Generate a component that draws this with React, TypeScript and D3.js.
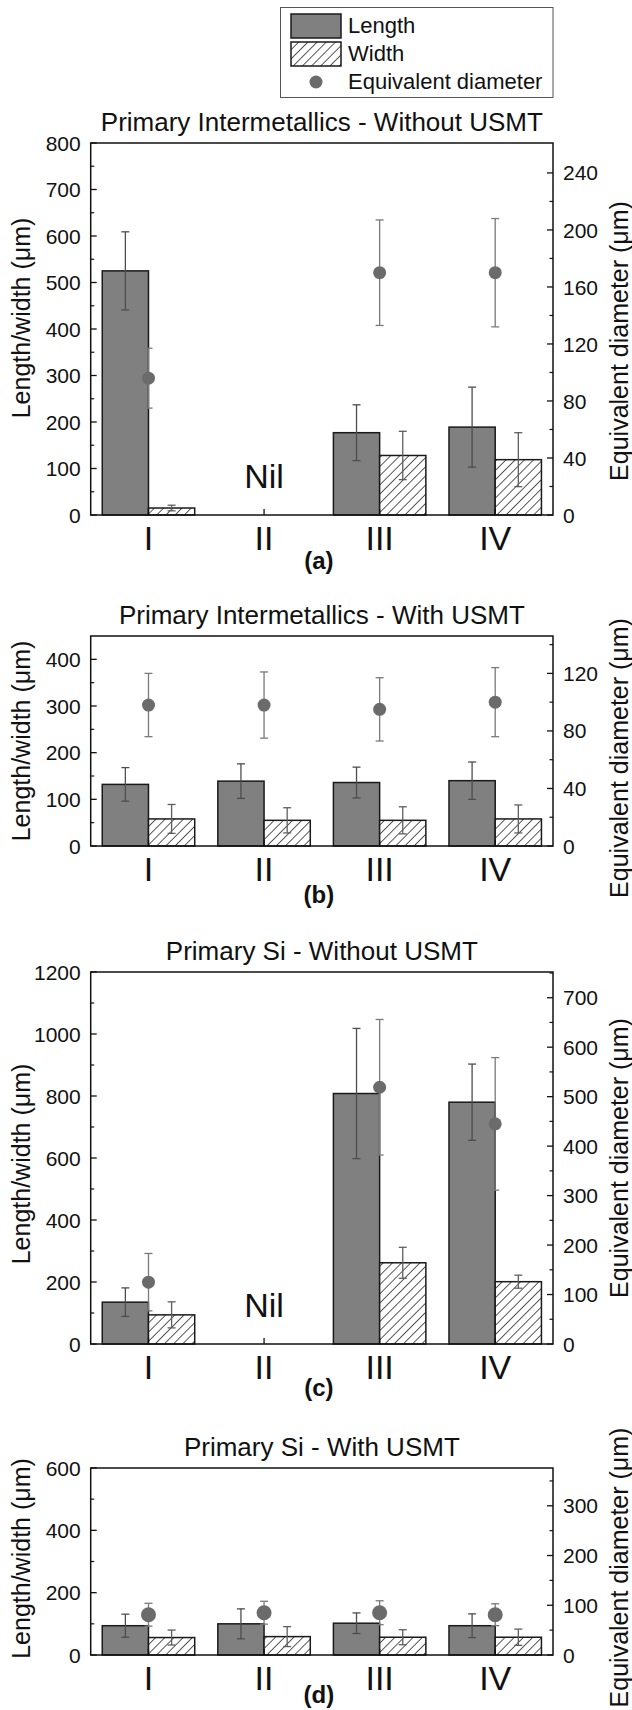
import React from "react";
import * as d3 from "d3";

const categories = ["I", "II", "III", "IV"];
const seriesNames = ["Length", "Width"];

// (a) Primary Intermetallics - Without USMT
const lengthA = [525, null, 177, 189];
const lengthErrA = [84, null, 60, 86];
const widthA = [15, null, 128, 119];
const widthErrA = [6, null, 52, 58];
const diamA = [96, null, 170, 170];
const diamErrA = [21, null, 37, 38];

// (b) Primary Intermetallics - With USMT
const lengthB = [132, 139, 136, 140];
const lengthErrB = [36, 37, 33, 40];
const widthB = [58, 55, 55, 58];
const widthErrB = [31, 27, 29, 30];
const diamB = [98, 98, 95, 100];
const diamErrB = [22, 23, 22, 24];

// (c) Primary Si - Without USMT
const lengthC = [135, null, 808, 780];
const lengthErrC = [46, null, 210, 123];
const widthC = [94, null, 262, 201];
const widthErrC = [42, null, 50, 21];
const diamC = [125, null, 519, 445];
const diamErrC = [58, null, 137, 134];

// (d) Primary Si - With USMT
const lengthD = [94, 100, 102, 94];
const lengthErrD = [37, 48, 33, 38];
const widthD = [56, 59, 57, 57];
const widthErrD = [24, 32, 24, 26];
const diamD = [81, 85, 85, 81];
const diamErrD = [23, 23, 24, 22];

const titles = [
  "Primary Intermetallics - Without USMT",
  "Primary Intermetallics - With USMT",
  "Primary Si - Without USMT",
  "Primary Si - With USMT",
];
const letters = ["(a)", "(b)", "(c)", "(d)"];
const leftMax = [800, 450, 1200, 600];
const rightMax = [261, 146, 752, 376];
const leftStep = [100, 100, 200, 200];
const rightStep = [40, 40, 100, 100];

const FONT = "'Liberation Sans', Arial, Helvetica, sans-serif";
const X0 = 90.7;
const X1 = 553;

const layout = [
  { top: 143, bottom: 515, lShift: -11, rShift: 12, letterY: 54, radius: 6.5 },
  { top: 636, bottom: 846, lShift: 0, rShift: 17, letterY: 57, radius: 6.5 },
  { top: 972, bottom: 1344, lShift: 6, rShift: 0, letterY: 52, radius: 6.5 },
  { top: 1468, bottom: 1655, lShift: -3, rShift: 6, letterY: 48, radius: 7.5 },
];

const panels = [
  { length: lengthA, lengthErr: lengthErrA, width: widthA, widthErr: widthErrA, diam: diamA, diamErr: diamErrA },
  { length: lengthB, lengthErr: lengthErrB, width: widthB, widthErr: widthErrB, diam: diamB, diamErr: diamErrB },
  { length: lengthC, lengthErr: lengthErrC, width: widthC, widthErr: widthErrC, diam: diamC, diamErr: diamErrC },
  { length: lengthD, lengthErr: lengthErrD, width: widthD, widthErr: widthErrD, diam: diamD, diamErr: diamErrD },
];

const ErrBar = ({ x, y0, y1, color }) => (
  <g stroke={color} strokeWidth={1.3}>
    <line x1={x} x2={x} y1={y0} y2={y1} />
    <line x1={x - 4} x2={x + 4} y1={y0} y2={y0} />
    <line x1={x - 4} x2={x + 4} y1={y1} y2={y1} />
  </g>
);

const Panel = ({ i }) => {
  const { top, bottom, lShift, rShift, letterY, radius } = layout[i];
  const d = panels[i];
  const x = d3.scaleBand().domain(categories).range([X0, X1]).paddingInner(0.2).paddingOuter(0.1);
  const sub = d3.scaleBand().domain(seriesNames).range([0, x.bandwidth()]);
  const yL = d3.scaleLinear().domain([0, leftMax[i]]).range([bottom, top]);
  const yR = d3.scaleLinear().domain([0, rightMax[i]]).range([bottom, top]);
  const lMajor = d3.range(0, leftMax[i] + 1, leftStep[i]);
  const lMinor = d3.range(leftStep[i] / 2, leftMax[i], leftStep[i]);
  const rMajor = d3.range(0, rightMax[i] + 0.01, rightStep[i]);
  const rMinor = d3.range(rightStep[i] / 2, rightMax[i] - 1, rightStep[i]);
  const center = (c) => x(c) + x.bandwidth() / 2;
  const midY = (top + bottom) / 2;

  return (
    <g>
      <text x={(X0 + X1) / 2} y={top - 12} textAnchor="middle" fontSize={26}>
        {titles[i]}
      </text>

      {categories.map((c, k) => (
        <g key={c}>
          {d.length[k] != null && (
            <rect x={x(c) + sub("Length")} y={yL(d.length[k])} width={sub.bandwidth()}
              height={bottom - yL(d.length[k])} fill="#808080" stroke="#1a1a1a" strokeWidth={1.5} />
          )}
          {d.width[k] != null && (
            <rect x={x(c) + sub("Width")} y={yL(d.width[k])} width={sub.bandwidth()}
              height={bottom - yL(d.width[k])} fill="url(#hatch)" stroke="#1a1a1a" strokeWidth={1.5} />
          )}
        </g>
      ))}
      {categories.map((c, k) => (
        <g key={c + "e"}>
          {d.length[k] != null && (
            <ErrBar x={x(c) + sub("Length") + sub.bandwidth() / 2} y0={yL(d.length[k] + d.lengthErr[k])}
              y1={yL(d.length[k] - d.lengthErr[k])} color="#4d4d4d" />
          )}
          {d.width[k] != null && (
            <ErrBar x={x(c) + sub("Width") + sub.bandwidth() / 2} y0={yL(d.width[k] + d.widthErr[k])}
              y1={yL(d.width[k] - d.widthErr[k])} color="#5e5e5e" />
          )}
          {d.diam[k] != null && (
            <g>
              <ErrBar x={center(c)} y0={yR(d.diam[k] + d.diamErr[k])} y1={yR(d.diam[k] - d.diamErr[k])} color="#7a7a7a" />
              <circle cx={center(c)} cy={yR(d.diam[k])} r={radius} fill="#6b6b6b" />
            </g>
          )}
          {d.length[k] == null && (
            <text x={center(c)} y={bottom - 27} textAnchor="middle" fontSize={34}>Nil</text>
          )}
        </g>
      ))}

      {/* frame */}
      <rect x={X0} y={top} width={X1 - X0} height={bottom - top} fill="none" stroke="#111" strokeWidth={1.5} />

      {/* x ticks */}
      {categories.map((c) => (
        <g key={c + "t"}>
          <line x1={center(c)} x2={center(c)} y1={bottom} y2={bottom - 6} stroke="#111" strokeWidth={1.3} />
          <text x={center(c)} y={bottom + 35} textAnchor="middle" fontSize={34}>{c}</text>
        </g>
      ))}

      {/* left axis */}
      {lMajor.map((v) => (
        <g key={"l" + v}>
          <line x1={X0} x2={X0 + 6} y1={yL(v)} y2={yL(v)} stroke="#111" strokeWidth={1.3} />
          <text x={X0 - 10} y={yL(v)} dy="0.36em" textAnchor="end" fontSize={21}>{v}</text>
        </g>
      ))}
      {lMinor.map((v) => (
        <line key={"lm" + v} x1={X0} x2={X0 + 3.5} y1={yL(v)} y2={yL(v)} stroke="#111" strokeWidth={1.2} />
      ))}

      {/* right axis */}
      {rMajor.map((v) => (
        <g key={"r" + v}>
          <line x1={X1} x2={X1 - 6} y1={yR(v)} y2={yR(v)} stroke="#111" strokeWidth={1.3} />
          <text x={X1 + 10} y={yR(v)} dy="0.36em" textAnchor="start" fontSize={21}>{v}</text>
        </g>
      ))}
      {rMinor.map((v) => (
        <line key={"rm" + v} x1={X1} x2={X1 - 3.5} y1={yR(v)} y2={yR(v)} stroke="#111" strokeWidth={1.2} />
      ))}

      <text transform={`translate(21,${midY + lShift}) rotate(-90)`} textAnchor="middle" dy="0.35em" fontSize={25}>
        Length/width (μm)
      </text>
      <text transform={`translate(619,${midY + rShift}) rotate(-90)`} textAnchor="middle" dy="0.35em" fontSize={25}>
        Equivalent diameter (μm)
      </text>

      <text x={(X0 + X1) / 2 - 3} y={bottom + letterY} textAnchor="middle" fontSize={24} fontWeight="bold">
        {letters[i]}
      </text>
    </g>
  );
};

const Legend = () => (
  <g>
    <rect x={280.5} y={7.5} width={272.5} height={90} fill="#fff" stroke="#555" strokeWidth={1} />
    <rect x={291} y={14} width={50} height={24} fill="#808080" stroke="#1a1a1a" strokeWidth={1.5} />
    <rect x={291} y={42} width={50} height={24} fill="url(#hatch)" stroke="#1a1a1a" strokeWidth={1.5} />
    <circle cx={316} cy={82} r={6.5} fill="#6b6b6b" />
    <text x={348} y={33} fontSize={22}>Length</text>
    <text x={348} y={61} fontSize={22}>Width</text>
    <text x={348} y={89} fontSize={22}>Equivalent diameter</text>
  </g>
);

export default function App() {
  return (
    <svg width={632} height={1710} style={{ position: "absolute", left: 0, top: 0, background: "#fff" }}
      fontFamily={FONT} fill="#111">
      <defs>
        <pattern id="hatch" patternUnits="userSpaceOnUse" width={6.5} height={6.5} patternTransform="rotate(45)">
          <rect width={6.5} height={6.5} fill="#fff" />
          <line x1={0} y1={0} x2={0} y2={6.5} stroke="#111" strokeWidth={1.4} />
        </pattern>
      </defs>
      <rect width={632} height={1710} fill="#fff" />
      <Legend />
      {[0, 1, 2, 3].map((i) => (
        <Panel key={i} i={i} />
      ))}
    </svg>
  );
}
